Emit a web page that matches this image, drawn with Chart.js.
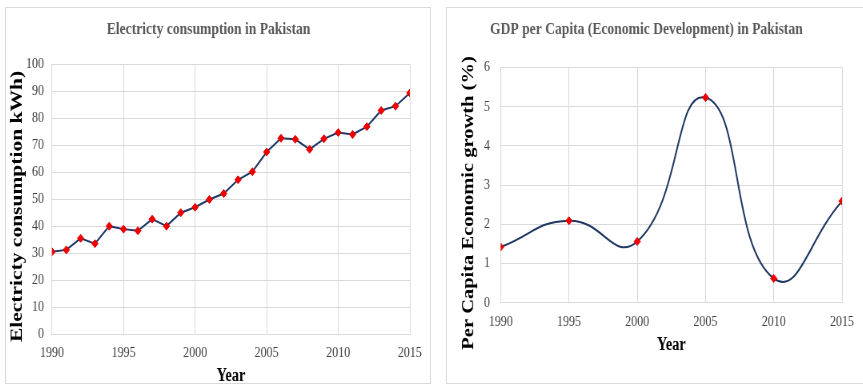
<!DOCTYPE html>
<html>
<head>
<meta charset="utf-8">
<script src="https://cdn.jsdelivr.net/npm/chart.js@4.4.1/dist/chart.umd.min.js"></script>
<style>
  html, body { margin: 0; padding: 0; background: #fff; }
  body { position: relative; width: 863px; height: 387px; overflow: hidden; }
  .frame { position: absolute; border: 1px solid #d9d9d9; box-sizing: border-box; }
  .holder { position: absolute; transform: scaleX(0.8); transform-origin: 0 0; }
</style>
</head>
<body>
<div class="frame" style="left:5px;top:7px;width:426px;height:377px"></div>
<div class="frame" style="left:446px;top:7px;width:420px;height:377px"></div>
<div class="holder" style="left:5px;top:7px"><canvas id="elecChart" width="531" height="378"></canvas></div>
<div class="holder" style="left:446px;top:7px"><canvas id="gdpChart" width="520" height="376"></canvas></div>

<script>
// Electricity consumption, one point per year
const elecYears = [1990, 1991, 1992, 1993, 1994, 1995, 1996, 1997, 1998, 1999, 2000, 2001, 2002,
                   2003, 2004, 2005, 2006, 2007, 2008, 2009, 2010, 2011, 2012, 2013, 2014, 2015];
const elecKwh = [30.5, 31.2, 35.5, 33.5, 40.0, 38.9, 38.3, 42.6, 40.0, 45.0, 47.0, 49.9, 52.1,
                 57.2, 60.2, 67.5, 72.6, 72.2, 68.5, 72.4, 74.7, 74.0, 76.9, 82.9, 84.5, 89.4];

// GDP per capita growth, every five years
const gdpYears = [1990, 1995, 2000, 2005, 2010, 2015];
const gdpGrowth = [1.42, 2.09, 1.56, 5.23, 0.62, 2.59];

const SERIF = '"Liberation Serif", "Times New Roman", serif';
const GRID = '#d9d9d9';
const LINE = '#1f3864';
const MARK = '#ee0000';

// vertical axis title, drawn beside the value axis
const sideTitle = {
    id: 'sideTitle',
    afterDraw(chart, args, opts) {
        const ctx = chart.ctx;
        ctx.save();
        ctx.translate(opts.x, opts.y);
        ctx.rotate(-Math.PI / 2);
        ctx.font = 'bold ' + opts.size + 'px ' + SERIF;
        ctx.fillStyle = '#000';
        ctx.textAlign = 'center';
        ctx.textBaseline = 'middle';
        ctx.fillText(opts.text, 0, 0);
        ctx.restore();
    }
};

function toPoints(xs, ys) {
    return xs.map((x, i) => ({ x: x, y: ys[i] }));
}

function buildChart(canvas, cfg) {
    return new Chart(canvas, {
        type: 'line',
        data: {
            datasets: [{
                data: toPoints(cfg.xs, cfg.ys),
                borderColor: LINE,
                borderWidth: 2,
                tension: cfg.tension,
                pointStyle: 'rectRot',
                pointRadius: 4,
                pointBorderWidth: 1,
                pointBackgroundColor: MARK,
                pointBorderColor: MARK
            }]
        },
        options: {
            responsive: false,
            animation: false,
            layout: { padding: cfg.pad },
            plugins: {
                legend: { display: false },
                tooltip: { enabled: false },
                title: {
                    display: true,
                    text: cfg.title,
                    color: '#595959',
                    font: { family: SERIF, size: 17, weight: 'bold', lineHeight: 1.2 },
                    padding: { top: 12.8, bottom: cfg.titleGap }
                },
                sideTitle: cfg.yTitle
            },
            scales: {
                x: {
                    type: 'linear',
                    min: 1990, max: 2015,
                    grid: { color: GRID, drawTicks: false },
                    border: { color: GRID },
                    ticks: {
                        stepSize: 5,
                        padding: 10,
                        color: '#404040',
                        font: { family: SERIF, size: 15 },
                        callback: v => String(v)
                    },
                    title: {
                        display: true, text: 'Year', color: '#000',
                        font: { family: SERIF, size: 18, weight: 'bold', lineHeight: 1 },
                        padding: { top: 0, bottom: 0 }
                    },
                    afterFit: s => { s.height = cfg.xAxisH; }
                },
                y: {
                    min: 0, max: cfg.yMax,
                    grid: { color: GRID, drawTicks: false },
                    border: { color: GRID },
                    ticks: {
                        stepSize: cfg.yStep,
                        padding: cfg.yTickPad,
                        color: '#404040',
                        font: { family: SERIF, size: 15 }
                    },
                    afterFit: s => { s.width = cfg.yAxisW; }
                }
            }
        },
        plugins: [sideTitle]
    });
}

buildChart(document.getElementById('elecChart'), {
    xs: elecYears, ys: elecKwh, tension: 0,
    title: 'Electricty consumption in Pakistan',
    titleGap: 24.2,
    pad: { top: 0, left: 0, right: 22, bottom: 0 },
    xAxisH: 51,
    yMax: 100, yStep: 10, yTickPad: 10, yAxisW: 58.75,
    yTitle: { text: 'Electricty consumption kWh)', size: 21.5, x: 15, y: 199.5 }
});

buildChart(document.getElementById('gdpChart'), {
    xs: gdpYears, ys: gdpGrowth, tension: 0.5,
    title: 'GDP per Capita (Economic Development) in Pakistan',
    titleGap: 27.2,
    pad: { top: 0, left: 0, right: 19, bottom: 29 },
    xAxisH: 51.3,
    yMax: 6, yStep: 1, yTickPad: 13.4, yAxisW: 68.4,
    yTitle: { text: 'Per Capita Economic growth (%)', size: 20.5, x: 29, y: 196 }
});
</script>
</body>
</html>
